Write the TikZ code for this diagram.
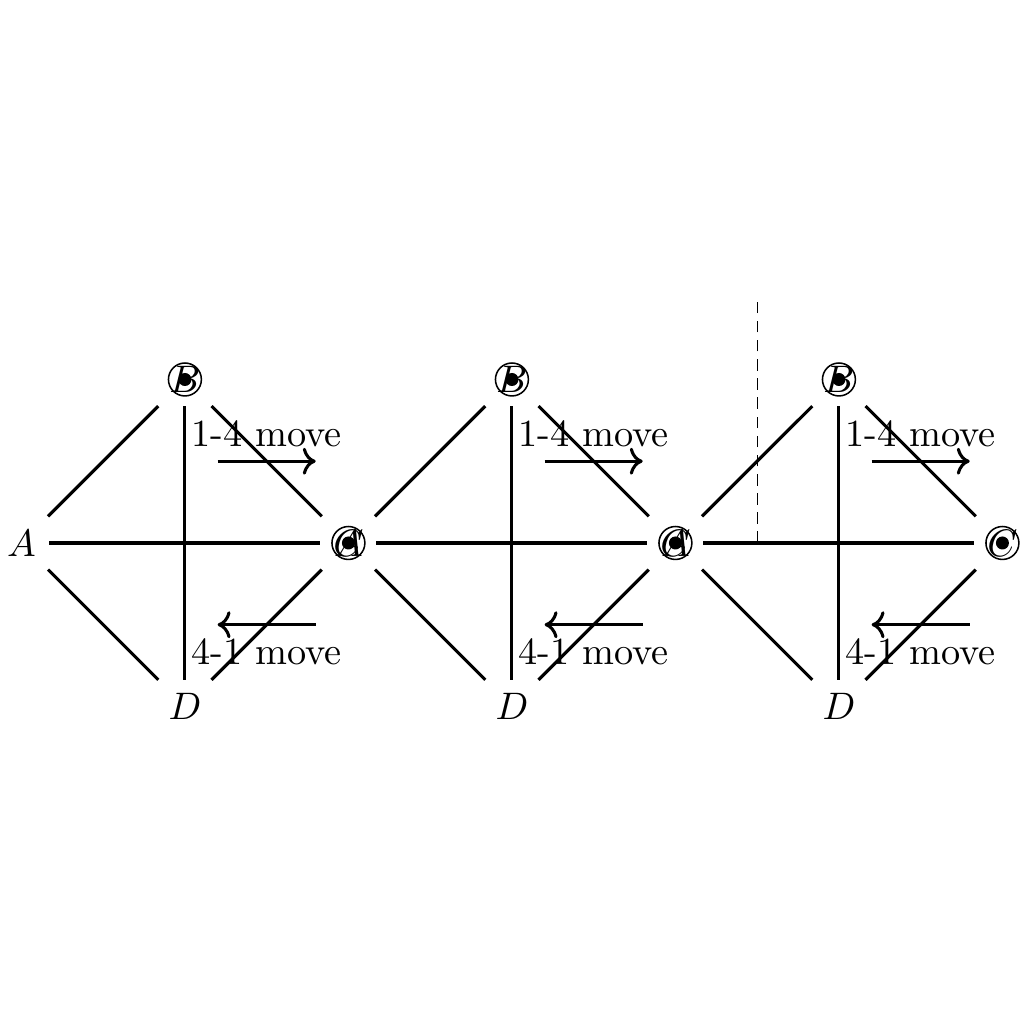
\documentclass[tikz,border=0pt]{standalone}
\usepackage{amsmath}
\usetikzlibrary{arrows.meta}

\begin{document}
\begin{tikzpicture}[x=1.5cm,y=1.5cm, edge/.style={thick}]
  \useasboundingbox (-1.131,-2.942) rectangle (5.131,3.321);
  % three diamonds
  \foreach \x/\i in {0/1,2/2,4/3} {
    \node (A\i) at (\x-1,0) {$A$};
    \node (B\i) at (\x,1) {$B$};
    \node (C\i) at (\x+1,0) {$C$};
    \node (D\i) at (\x,-1) {$D$};
    \draw[edge] (A\i) -- (B\i);
    \draw[edge] (A\i) -- (C\i);
    \draw[edge] (A\i) -- (D\i);
    \draw[edge] (B\i) -- (C\i);
    \draw[edge] (B\i) -- (D\i);
    \draw[edge] (C\i) -- (D\i);
    % marked vertices
    \draw (B\i) circle (4.3pt);
    \fill (B\i) circle (1.7pt);
    \draw (C\i) circle (4.3pt);
    \fill (C\i) circle (1.7pt);
    % moves
    \draw[edge,->] (\x+0.2,0.5) -- (\x+0.8,0.5) node[midway,above]{1-4 move};
    \draw[edge,->] (\x+0.8,-0.5) -- (\x+0.2,-0.5) node[midway,below]{4-1 move};
  }
  % cut
  \coordinate (cuttop) at (3.5,1.5);
  \coordinate (cutbot) at (3.5,0);
  \draw[very thin, dash pattern=on 3pt off 2pt] (cutbot) -- (cuttop);
\end{tikzpicture}
\end{document}
